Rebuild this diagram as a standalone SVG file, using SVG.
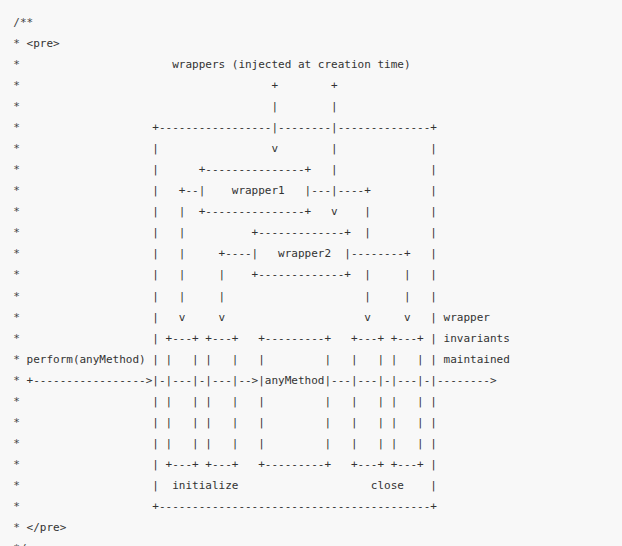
<svg xmlns="http://www.w3.org/2000/svg" width="622" height="546" viewBox="0 0 622 546" xml:space="preserve">
<style>
text{font-family:"DejaVu Sans Mono","Liberation Mono",monospace;font-size:11px;fill:#333;white-space:pre}
.c{fill:#444}
</style>
<rect x="0" y="0" width="622" height="546" fill="#f8f8f8"/>
<g id="comment">
<text class="c" x="13.3" y="26" textLength="19.86" lengthAdjust="spacing">/**</text>
<text class="c" x="13.3 13.3 13.3 13.3 13.3 13.3 13.3 13.3 13.3 13.3 13.3 13.3 13.3 13.3 13.3 13.3 13.3 13.3 13.3 13.3 13.3 13.3 13.3 13.3" y="47.04 68.08 89.12 110.16 131.2 152.24 173.28 194.32 215.36 236.4 257.44 278.48 299.52 320.56 341.6 362.64 383.68 404.72 425.76 446.8 467.84 488.88 509.92 530.96">************************</text>
<text x="26.54" y="47.04" textLength="33.1" lengthAdjust="spacing">&lt;pre&gt;</text>
<text x="26.54" y="530.96" textLength="39.72" lengthAdjust="spacing">&lt;/pre&gt;</text>
<text class="c" x="13.3" y="552" textLength="13.24" lengthAdjust="spacing">*/</text>
</g>
<g id="title">
<text x="172.18" y="68.08" textLength="238.32" lengthAdjust="spacing">wrappers (injected at creation time)</text>
</g>
<g id="frame">
<text x="152.32" y="131.2" textLength="119.16" lengthAdjust="spacing">+-----------------</text>
<text x="278.1" y="131.2" textLength="52.96" lengthAdjust="spacing">--------</text>
<text x="337.68" y="131.2" textLength="99.3" lengthAdjust="spacing">--------------+</text>
<text x="152.32 152.32 152.32 152.32 152.32 152.32 152.32 152.32 152.32 152.32 152.32 152.32 152.32 152.32 152.32 152.32 152.32" y="152.24 173.28 194.32 215.36 236.4 257.44 278.48 299.52 320.56 341.6 362.64 383.68 404.72 425.76 446.8 467.84 488.88">|||||||||||||||||</text>
<text x="430.36 430.36 430.36 430.36 430.36 430.36 430.36 430.36 430.36 430.36 430.36 430.36 430.36 430.36 430.36 430.36 430.36" y="152.24 173.28 194.32 215.36 236.4 257.44 278.48 299.52 320.56 341.6 362.64 383.68 404.72 425.76 446.8 467.84 488.88">|||||||||||||||||</text>
<text x="152.32" y="509.92" textLength="284.66" lengthAdjust="spacing">+-----------------------------------------+</text>
</g>
<g id="wrapper1">
<text x="198.66" y="173.28" textLength="112.54" lengthAdjust="spacing">+---------------+</text>
<text x="198.66" y="194.32" textLength="112.54" lengthAdjust="spacing">|    wrapper1   |</text>
<text x="198.66" y="215.36" textLength="112.54" lengthAdjust="spacing">+---------------+</text>
</g>
<g id="wrapper2">
<text x="251.62" y="236.4" textLength="99.3" lengthAdjust="spacing">+-------------+</text>
<text x="251.62" y="257.44" textLength="99.3" lengthAdjust="spacing">|   wrapper2  |</text>
<text x="251.62" y="278.48" textLength="99.3" lengthAdjust="spacing">+-------------+</text>
</g>
<g id="initialize-box-1">
<text x="165.56" y="341.6" textLength="33.1" lengthAdjust="spacing">+---+</text>
<text x="165.56 165.56 165.56 165.56 165.56" y="362.64 383.68 404.72 425.76 446.8">|||||</text>
<text x="192.04 192.04 192.04 192.04 192.04" y="362.64 383.68 404.72 425.76 446.8">|||||</text>
<text x="165.56" y="467.84" textLength="33.1" lengthAdjust="spacing">+---+</text>
</g>
<g id="initialize-box-2">
<text x="205.28" y="341.6" textLength="33.1" lengthAdjust="spacing">+---+</text>
<text x="205.28 205.28 205.28 205.28 205.28" y="362.64 383.68 404.72 425.76 446.8">|||||</text>
<text x="231.76 231.76 231.76 231.76 231.76" y="362.64 383.68 404.72 425.76 446.8">|||||</text>
<text x="205.28" y="467.84" textLength="33.1" lengthAdjust="spacing">+---+</text>
</g>
<g id="anyMethod">
<text x="258.24" y="341.6" textLength="72.82" lengthAdjust="spacing">+---------+</text>
<text x="258.24 258.24 258.24 258.24 258.24" y="362.64 383.68 404.72 425.76 446.8">|||||</text>
<text x="324.44 324.44 324.44 324.44 324.44" y="362.64 383.68 404.72 425.76 446.8">|||||</text>
<text x="264.86" y="383.68" textLength="59.58" lengthAdjust="spacing">anyMethod</text>
<text x="258.24" y="467.84" textLength="72.82" lengthAdjust="spacing">+---------+</text>
</g>
<g id="close-box-1">
<text x="350.92" y="341.6" textLength="33.1" lengthAdjust="spacing">+---+</text>
<text x="350.92 350.92 350.92 350.92 350.92" y="362.64 383.68 404.72 425.76 446.8">|||||</text>
<text x="377.4 377.4 377.4 377.4 377.4" y="362.64 383.68 404.72 425.76 446.8">|||||</text>
<text x="350.92" y="467.84" textLength="33.1" lengthAdjust="spacing">+---+</text>
</g>
<g id="close-box-2">
<text x="390.64" y="341.6" textLength="33.1" lengthAdjust="spacing">+---+</text>
<text x="390.64 390.64 390.64 390.64 390.64" y="362.64 383.68 404.72 425.76 446.8">|||||</text>
<text x="417.12 417.12 417.12 417.12 417.12" y="362.64 383.68 404.72 425.76 446.8">|||||</text>
<text x="390.64" y="467.84" textLength="33.1" lengthAdjust="spacing">+---+</text>
</g>
<g id="labels">
<text x="443.6" y="320.56" textLength="46.34" lengthAdjust="spacing">wrapper</text>
<text x="443.6" y="341.6" textLength="66.2" lengthAdjust="spacing">invariants</text>
<text x="443.6" y="362.64" textLength="66.2" lengthAdjust="spacing">maintained</text>
<text x="26.54" y="362.64" textLength="119.16" lengthAdjust="spacing">perform(anyMethod)</text>
<text x="172.18" y="488.88" textLength="66.2" lengthAdjust="spacing">initialize</text>
<text x="370.78" y="488.88" textLength="33.1" lengthAdjust="spacing">close</text>
</g>
<g id="connectors">
<text x="271.48" y="89.12">+</text>
<text x="331.06" y="89.12">+</text>
<text x="271.48 271.48 271.48" y="110.16 131.2 152.24">||v</text>
<text x="331.06 331.06 331.06 331.06" y="110.16 131.2 152.24 173.28">||||</text>
<text x="178.8" y="194.32" textLength="19.86" lengthAdjust="spacing">+--</text>
<text x="311.2" y="194.32" textLength="59.58" lengthAdjust="spacing">---|----+</text>
<text x="331.06" y="215.36">v</text>
<text x="178.8 178.8 178.8 178.8 178.8 178.8" y="215.36 236.4 257.44 278.48 299.52 320.56">|||||v</text>
<text x="364.16 364.16" y="215.36 236.4">||</text>
<text x="218.52" y="257.44" textLength="33.1" lengthAdjust="spacing">+----</text>
<text x="350.92" y="257.44" textLength="59.58" lengthAdjust="spacing">--------+</text>
<text x="218.52 218.52 218.52" y="278.48 299.52 320.56">||v</text>
<text x="364.16 364.16 364.16" y="278.48 299.52 320.56">||v</text>
<text x="403.88 403.88 403.88" y="278.48 299.52 320.56">||v</text>
<text x="26.54" y="383.68" textLength="125.78" lengthAdjust="spacing">+-----------------&gt;</text>
<text x="158.94" y="383.68">-</text>
<text x="172.18" y="383.68" textLength="19.86" lengthAdjust="spacing">---</text>
<text x="198.66" y="383.68">-</text>
<text x="211.9" y="383.68" textLength="19.86" lengthAdjust="spacing">---</text>
<text x="238.38" y="383.68" textLength="19.86" lengthAdjust="spacing">--&gt;</text>
<text x="331.06" y="383.68" textLength="19.86" lengthAdjust="spacing">---</text>
<text x="357.54" y="383.68" textLength="19.86" lengthAdjust="spacing">---</text>
<text x="384.02" y="383.68">-</text>
<text x="397.26" y="383.68" textLength="19.86" lengthAdjust="spacing">---</text>
<text x="423.74" y="383.68">-</text>
<text x="436.98" y="383.68" textLength="59.58" lengthAdjust="spacing">--------&gt;</text>
</g>
</svg>
